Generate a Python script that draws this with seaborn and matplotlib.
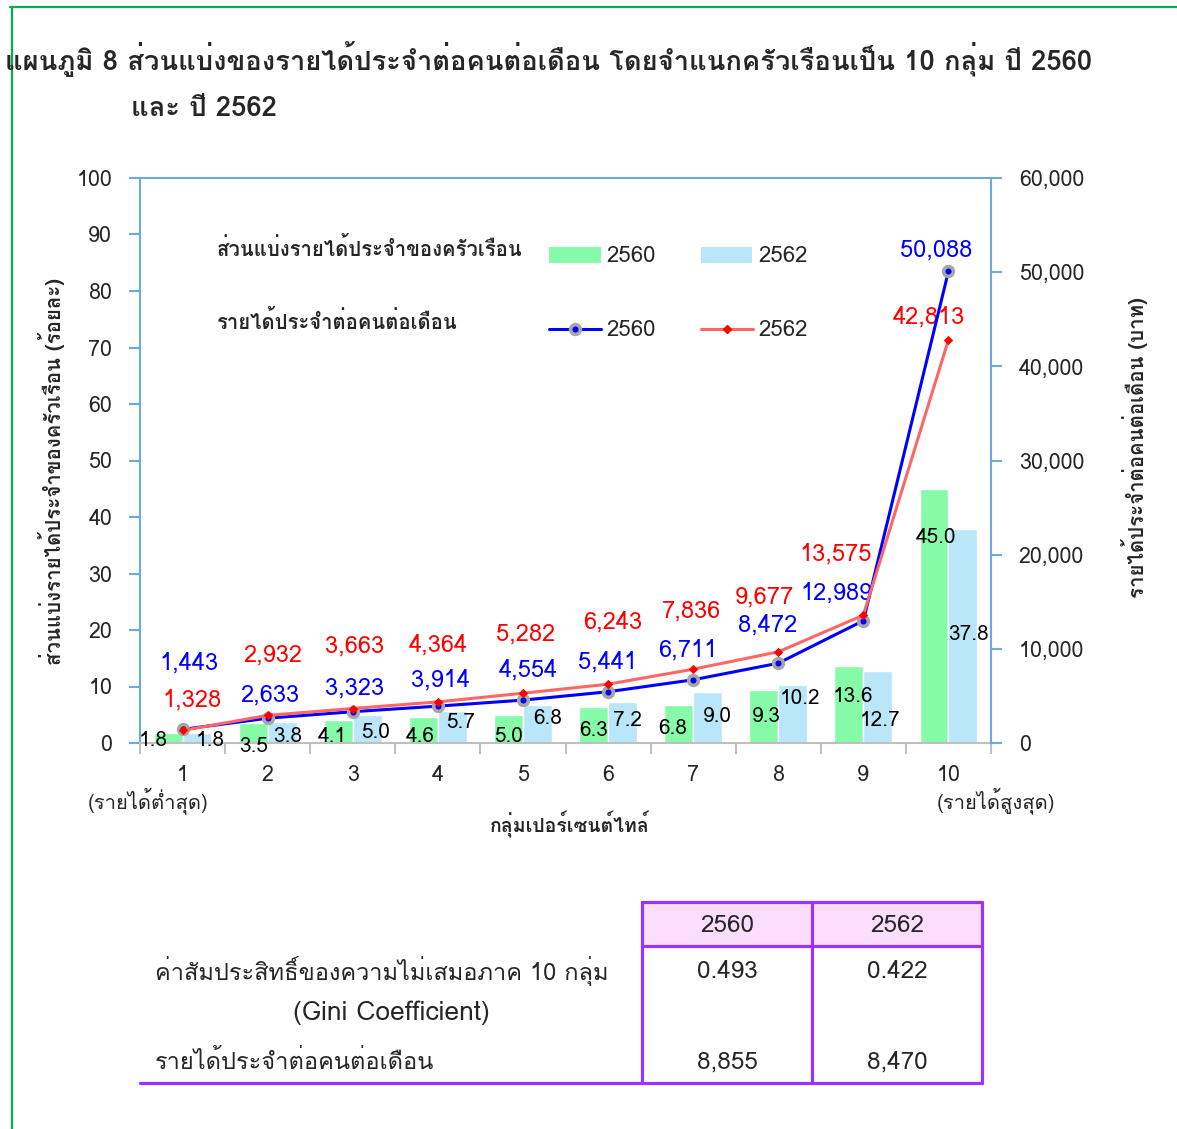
import numpy as np
import pandas as pd
import matplotlib
matplotlib.use("Agg")
import matplotlib.pyplot as plt
import seaborn as sns
from matplotlib import font_manager as fm
from matplotlib.ft2font import FT2Font
from matplotlib.patches import Rectangle
from matplotlib.lines import Line2D
from matplotlib.ticker import FuncFormatter, FixedLocator

# ---------------- data ----------------
groups = ["1", "2", "3", "4", "5", "6", "7", "8", "9", "10"]
years = ["2560", "2562"]
share_2560 = [1.8, 3.5, 4.1, 4.6, 5.0, 6.3, 6.8, 9.3, 13.6, 45.0]
share_2562 = [1.8, 3.8, 5.0, 5.7, 6.8, 7.2, 9.0, 10.2, 12.7, 37.8]
income_2560 = [1443, 2633, 3323, 3914, 4554, 5441, 6711, 8472, 12989, 50088]
income_2562 = [1328, 2932, 3663, 4364, 5282, 6243, 7836, 9677, 13575, 42813]
gini = [0.493, 0.422]
avg_income = [8855, 8470]

left_ticks = [0, 10, 20, 30, 40, 50, 60, 70, 80, 90, 100]
right_ticks = [0, 10000, 20000, 30000, 40000, 50000, 60000]

title_1 = "แผนภูมิ 8 ส่วนแบ่งของรายได้ประจำต่อคนต่อเดือน โดยจำแนกครัวเรือนเป็น 10 กลุ่ม ปี 2560"
title_2 = "และ ปี 2562"
ylabel_left = "ส่วนแบ่งรายได้ประจำของครัวเรือน (ร้อยละ)"
ylabel_right = "รายได้ประจำต่อคนต่อเดือน (บาท)"
xlabel = "กลุ่มเปอร์เซนต์ไทล์"
low_note = "(รายได้ต่ำสุด)"
high_note = "(รายได้สูงสุด)"
legend_bar_title = "ส่วนแบ่งรายได้ประจำของครัวเรือน"
legend_line_title = "รายได้ประจำต่อคนต่อเดือน"
table_row1a = "ค่าสัมประสิทธิ์ของความไม่เสมอภาค 10 กลุ่ม"
table_row1b = "(Gini Coefficient)"
table_row2 = "รายได้ประจำต่อคนต่อเดือน"

# ---------------- label offsets (pixels, layout only) ----------------
bar_lab_dx_60 = [-15, 0, -6, -3, 0, 0, -6, 3, 4, 2]
bar_lab_dy_60 = [2, -3, 6, 7, 6, 12, 15, 26, 46, 206]
bar_lab_dx_62 = [13, 6, 8, 8, 10, 5, 10, 7, 2, 6]
bar_lab_dy_62 = [3, 6, 11, 20, 24, 22, 27, 45, 23, 108]
line_lab_dx_60 = [6, 2, 2, 3, 5, 0, -5, -11, -27, -12]
line_lab_dy_60 = [66, 23, 24, 26, 30, 30, 30, 38, 28, 21]
line_lab_dx_62 = [9, 5, 2, 0, 3, 5, -2, -14, -28, -20]
line_lab_dy_62 = [30, 60, 62, 57, 59, 62, 58, 55, 61, 23]

# ---------------- fonts ----------------
def find_thai_font():
    preferred = ["Tahoma", "Leelawadee UI", "Loma", "Garuda", "Umpush", "Waree",
                 "Noto Sans Thai", "Noto Sans Thai UI", "Sarabun", "Kinnari",
                 "Norasi", "Laksaman", "Tlwg Typo", "FreeSans", "FreeSerif"]
    found = {}
    for f in fm.fontManager.ttflist:
        try:
            ft = FT2Font(f.fname)
            if ft.get_char_index(0x0E01) and ft.get_char_index(0x0E33):
                found.setdefault(f.name, f.fname)
        except Exception:
            pass
    for p in preferred:
        if p in found:
            return p
    return next(iter(found), None)

sns.set_theme(style="white")
thai = find_thai_font()
families = ([thai] if thai else []) + ["DejaVu Sans"]
plt.rcParams["font.family"] = families
plt.rcParams["axes.unicode_minus"] = False

W, H = 1177, 1129
fig = plt.figure(figsize=(W / 100, H / 100), dpi=100)

def fx(px):
    return px / W

def fy(py):
    return 1 - py / H

PT = 72 / 100  # pixels -> points

ax_l, ax_r, ax_t, ax_b = 140, 991, 178, 743
ax = fig.add_axes([fx(ax_l), fy(ax_b), (ax_r - ax_l) / W, (ax_b - ax_t) / H])
ax2 = ax.twinx()

col_g = "#86FCA8"
col_b = "#BAE6FA"
col_line60 = "#0000FF"
col_line62 = "#FF6666"
col_axis = "#6FA8DC"
col_grey = "#BFBFBF"

FS_TICK = 15.5
FS_BAR = 15
FS_LINE = 17
FS_AXT = 14.7

# ---------------- bars ----------------
df = pd.DataFrame({
    "group": groups * 2,
    "year": [years[0]] * len(groups) + [years[1]] * len(groups),
    "share": share_2560 + share_2562,
})
sns.barplot(data=df, x="group", y="share", hue="year", order=groups,
            hue_order=years, palette={years[0]: col_g, years[1]: col_b},
            width=0.68, gap=0, saturation=1, legend=False, ax=ax,
            errorbar=None)

ax.set_ylim(0, 100)
ax.set_xlim(-0.5, len(groups) - 0.5)
ax.yaxis.set_major_locator(FixedLocator(left_ticks))
ax.set_yticklabels([str(t) for t in left_ticks])

# bar value labels
half = 0.17
for i in range(len(groups)):
    ax.annotate(f"{share_2560[i]:.1f}", (i - half, 0),
                xytext=(bar_lab_dx_60[i] * PT, bar_lab_dy_60[i] * PT),
                textcoords="offset points", ha="center", va="center",
                fontsize=FS_BAR, color="black", zorder=5)
    ax.annotate(f"{share_2562[i]:.1f}", (i + half, 0),
                xytext=(bar_lab_dx_62[i] * PT, bar_lab_dy_62[i] * PT),
                textcoords="offset points", ha="center", va="center",
                fontsize=FS_BAR, color="black", zorder=5)

# ---------------- lines ----------------
xs = np.arange(len(groups))
sns.lineplot(x=xs, y=income_2560, ax=ax2, color=col_line60, linewidth=2.2,
             marker="o", markersize=7, markerfacecolor=col_line60,
             markeredgecolor="#A6A6A6", markeredgewidth=2.6, zorder=4)
sns.lineplot(x=xs, y=income_2562, ax=ax2, color=col_line62, linewidth=2.2,
             marker="D", markersize=4.5, markerfacecolor="#FF0000",
             markeredgecolor="#FF0000", zorder=5)
ax2.set_ylim(0, 60000)
ax2.set_xlim(-0.5, len(groups) - 0.5)
ax2.yaxis.set_major_locator(FixedLocator(right_ticks))
ax2.yaxis.set_major_formatter(FuncFormatter(lambda v, p: f"{int(v):,}"))

for i in range(len(groups)):
    ax2.annotate(f"{income_2560[i]:,}", (i, income_2560[i]),
                 xytext=(line_lab_dx_60[i] * PT, line_lab_dy_60[i] * PT),
                 textcoords="offset points", ha="center", va="center",
                 fontsize=FS_LINE, color="#0000FF")
    ax2.annotate(f"{income_2562[i]:,}", (i, income_2562[i]),
                 xytext=(line_lab_dx_62[i] * PT, line_lab_dy_62[i] * PT),
                 textcoords="offset points", ha="center", va="center",
                 fontsize=FS_LINE, color="#FF0000")

# ---------------- axes styling ----------------
for a in (ax, ax2):
    a.set_xlabel("")
    a.set_ylabel("")
    a.grid(False)
    a.set_facecolor("none")
ax.set_facecolor("white")
ax.spines["left"].set_color(col_axis)
ax.spines["left"].set_linewidth(1.5)
ax.spines["top"].set_color(col_axis)
ax.spines["top"].set_linewidth(1.5)
ax.spines["bottom"].set_color(col_grey)
ax.spines["bottom"].set_linewidth(1.5)
ax.spines["right"].set_visible(False)
for s in ("left", "top", "bottom"):
    ax2.spines[s].set_visible(False)
ax2.spines["right"].set_color(col_axis)
ax2.spines["right"].set_linewidth(1.5)

ax.tick_params(axis="y", which="major", direction="out", length=8,
               width=1.5, color=col_axis, pad=12, labelsize=FS_TICK, left=True)
ax2.tick_params(axis="y", which="major", direction="out", length=8,
                width=1.5, color=col_axis, pad=12, labelsize=FS_TICK, right=True)

# x axis: boundary ticks, centred category labels
ax.xaxis.set_major_locator(FixedLocator(np.arange(-0.5, len(groups), 1.0)))
ax.xaxis.set_minor_locator(FixedLocator(xs))
ax.set_xticklabels([""] * (len(groups) + 1))
ax.set_xticklabels(groups, minor=True)
ax.tick_params(axis="x", which="major", direction="out", length=8, width=1.5,
               color=col_grey, bottom=True)
ax.tick_params(axis="x", which="minor", length=0, pad=16, labelsize=FS_TICK,
               bottom=True)
ax2.tick_params(axis="x", which="both", length=0, labelbottom=False)

# ---------------- texts ----------------
fig.text(fx(5), fy(59), title_1, fontsize=19.7, fontweight="bold",
         ha="left", va="center")
fig.text(fx(131), fy(109), title_2, fontsize=19.7, fontweight="bold",
         ha="left", va="center")
fig.text(fx(52), fy(472), ylabel_left, rotation=90, fontsize=FS_AXT,
         fontweight="bold", ha="center", va="center")
fig.text(fx(1135), fy(448), ylabel_right, rotation=90, fontsize=FS_AXT,
         fontweight="bold", ha="center", va="center")
fig.text(fx(570), fy(824), xlabel, fontsize=14, fontweight="bold",
         ha="center", va="center")
fig.text(fx(148), fy(801), low_note, fontsize=14.5, ha="center", va="center")
fig.text(fx(996), fy(801), high_note, fontsize=14.5, ha="center", va="center")

# ---------------- legend (manual) ----------------
fig.text(fx(217), fy(249), legend_bar_title, fontsize=14.6, fontweight="bold",
         ha="left", va="center")
fig.text(fx(217), fy(321), legend_line_title, fontsize=14.6, fontweight="bold",
         ha="left", va="center")
fig.add_artist(Rectangle((fx(549), fy(263)), (601 - 549) / W, 16 / H,
                         transform=fig.transFigure, facecolor=col_g, edgecolor="none"))
fig.add_artist(Rectangle((fx(701), fy(263)), (752 - 701) / W, 16 / H,
                         transform=fig.transFigure, facecolor=col_b, edgecolor="none"))
fig.add_artist(Line2D([fx(549), fx(601)], [fy(329), fy(329)], transform=fig.transFigure,
                      color=col_line60, linewidth=2.2))
fig.add_artist(Line2D([fx(575)], [fy(329)], transform=fig.transFigure, color=col_line60,
                      marker="o", markersize=7, markerfacecolor=col_line60,
                      markeredgecolor="#A6A6A6", markeredgewidth=2.6))
fig.add_artist(Line2D([fx(701), fx(753)], [fy(329), fy(329)], transform=fig.transFigure,
                      color=col_line62, linewidth=2.2))
fig.add_artist(Line2D([fx(727)], [fy(329)], transform=fig.transFigure, color="#FF0000",
                      marker="D", markersize=4.5, markerfacecolor="#FF0000",
                      markeredgecolor="#FF0000"))
for px, lab in ((606, years[0]), (758, years[1])):
    fig.text(fx(px), fy(257), lab, fontsize=16, ha="left", va="center")
    fig.text(fx(px), fy(331), lab, fontsize=16, ha="left", va="center")

# ---------------- table ----------------
purple = "#9933FF"
fig.add_artist(Rectangle((fx(642), fy(946)), (982 - 642) / W, (946 - 902) / H,
                         transform=fig.transFigure, facecolor="#FCDDFC", edgecolor="none"))
for x0 in (642, 812, 982):
    fig.add_artist(Line2D([fx(x0), fx(x0)], [fy(902), fy(1083)], transform=fig.transFigure,
                          color=purple, linewidth=2.3))
for y0 in (902, 946):
    fig.add_artist(Line2D([fx(642), fx(982)], [fy(y0), fy(y0)], transform=fig.transFigure,
                          color=purple, linewidth=2.3))
fig.add_artist(Line2D([fx(140), fx(982)], [fy(1083), fy(1083)], transform=fig.transFigure,
                      color=purple, linewidth=2.3))
FS_TAB = 17.5
for cx, yr, g, inc in zip((727, 897), years, gini, avg_income):
    fig.text(fx(cx), fy(926), yr, fontsize=FS_TAB, ha="center", va="center")
    fig.text(fx(cx), fy(971), f"{g:.3f}", fontsize=FS_TAB, ha="center", va="center")
    fig.text(fx(cx), fy(1062), f"{inc:,}", fontsize=FS_TAB, ha="center", va="center")
fig.text(fx(155), fy(971), table_row1a, fontsize=17, ha="left", va="center")
fig.text(fx(391), fy(1013), table_row1b, fontsize=19, ha="center", va="center")
fig.text(fx(155), fy(1062), table_row2, fontsize=17, ha="left", va="center")

# ---------------- page frame ----------------
fig.add_artist(Line2D([fx(10), fx(1177)], [fy(7), fy(7)], transform=fig.transFigure,
                      color="#00B050", linewidth=1.6))
fig.add_artist(Line2D([fx(12), fx(12)], [fy(7), fy(1129)], transform=fig.transFigure,
                      color="#00B050", linewidth=1.6))

fig.savefig("out.png", dpi=100)
